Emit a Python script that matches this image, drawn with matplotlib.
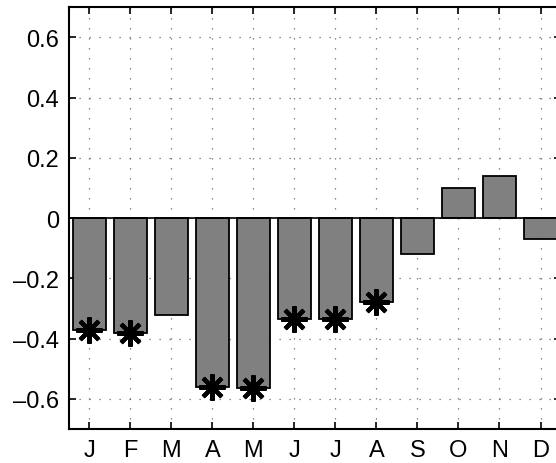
import matplotlib
matplotlib.use("Agg")
import matplotlib.pyplot as plt

plt.rcParams['font.family'] = ['Liberation Sans', 'DejaVu Sans']

months = ["J", "F", "M", "A", "M", "J", "J", "A", "S", "O", "N", "D"]
values = [-0.37, -0.38, -0.32, -0.56, -0.565, -0.335, -0.335, -0.28, -0.12, 0.10, 0.14, -0.07]
significant = [True, True, False, True, True, True, True, True, False, False, False, False]
yticks = [-0.6, -0.4, -0.2, 0, 0.2, 0.4, 0.6]
ytick_labels = ["\u20130.6", "\u20130.4", "\u20130.2", "0", "0.2", "0.4", "0.6"]

x = list(range(1, len(months) + 1))

fig = plt.figure(figsize=(5.56, 4.64), dpi=100)
ax = fig.add_axes([0.124, 0.0733, 0.885, 0.909])

ax.bar(x, values, width=0.8, color="#808080", edgecolor="black", linewidth=1.3, zorder=2)
ax.axhline(0, color="black", linewidth=1.2, zorder=3)

sx = [xi for xi, s in zip(x, significant) if s]
sy = [v for v, s in zip(values, significant) if s]
ax.plot(sx, sy, linestyle="none", marker=(8, 2, 0), markersize=19,
        markeredgewidth=3, color="black", zorder=4)

ax.set_xlim(0.5, 12.5)
ax.set_ylim(-0.7, 0.7)
ax.set_xticks(x)
ax.set_xticklabels(months)
ax.set_yticks(yticks)
ax.set_yticklabels(ytick_labels)

ax.grid(True, linestyle=(0, (1, 7)), color="#666666", linewidth=0.9, zorder=0)
ax.set_axisbelow(True)
ax.tick_params(direction="in", length=5, width=1.2, labelsize=17,
               top=True, right=True, pad=7)
for sp in ax.spines.values():
    sp.set_linewidth(1.5)

fig.savefig("out.png", dpi=100)
